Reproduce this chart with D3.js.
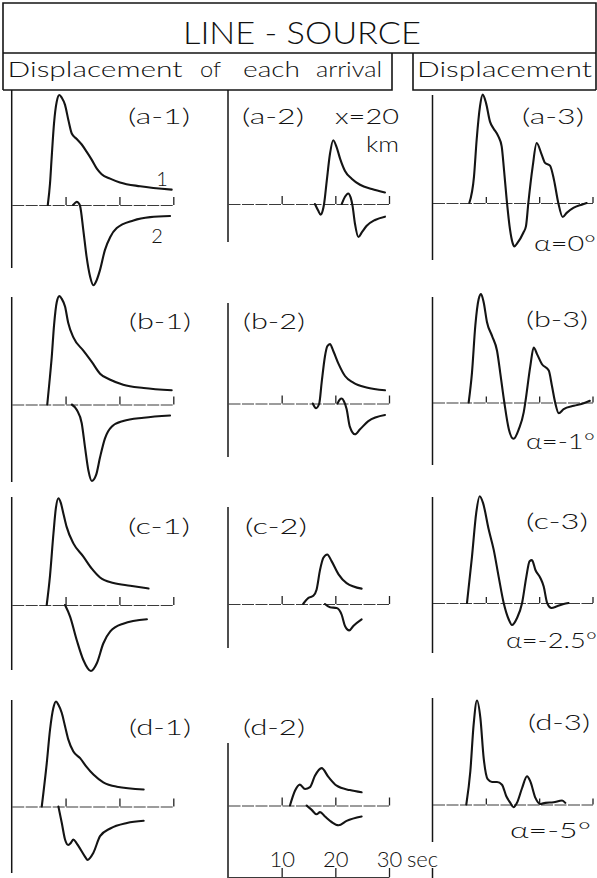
<!DOCTYPE html>
<html>
<head>
<meta charset="utf-8">
<script src="https://cdn.jsdelivr.net/npm/d3@7"></script>
<style>
  html, body { margin: 0; padding: 0; background: #fff; }
  svg { display: block; }
  text { font-family: "Lato", "Roboto", "DejaVu Sans", sans-serif; font-weight: 300; fill: #111; }
</style>
</head>
<body>
<svg id="fig" width="597" height="878"></svg>
<script>
// ---- data: time in seconds, displacement in relative units ----
const timeTicks = [10, 20, 30];
const rowIds = ['a', 'b', 'c', 'd'];
const alphaLabels = ['α=0°', 'α=-1°', 'α=-2.5°', 'α=-5°'];
const arrivalLabels = ['1', '2'];

// column 1: the two arrivals for the line source
const a1Wave1 = [[6.7,0],[7.12,0.2],[7.43,0.44],[7.86,0.745],[8.36,0.94],[8.85,1.0],[9.3,0.975],[9.9,0.91],[10.53,0.77],[11.15,0.65],[12.08,0.6],[13.0,0.55],[13.9,0.485],[14.87,0.41],[15.8,0.33],[16.7,0.28],[18.27,0.24],[20.1,0.205],[23.85,0.17],[29.7,0.14]];
const a1Wave2 = [[11.4,0],[11.8,0.02],[12.1,0.03],[12.45,0.015],[12.7,-0.01],[13.3,-0.23],[13.9,-0.47],[14.55,-0.65],[15.17,-0.73],[15.8,-0.68],[16.4,-0.59],[17.3,-0.41],[18.3,-0.29],[19.5,-0.21],[22.6,-0.14],[25.7,-0.11],[29.4,-0.10]];
const b1Wave1 = [[6.6,0],[7.0,0.2],[7.43,0.43],[7.86,0.72],[8.36,0.93],[8.85,0.985],[9.3,0.96],[9.9,0.89],[10.5,0.74],[11.45,0.61],[13.3,0.49],[14.9,0.385],[16.4,0.28],[18.3,0.225],[20.7,0.18],[24.5,0.15],[29.7,0.13]];
const b1Wave2 = [[11.15,0],[12.1,-0.05],[13.0,-0.17],[13.6,-0.385],[14.24,-0.6],[14.87,-0.695],[15.67,-0.64],[16.4,-0.48],[17.3,-0.31],[18.6,-0.2],[20.7,-0.15],[24.5,-0.12],[29.4,-0.1]];
const c1Wave1 = [[6.5,0],[7.1,0.26],[7.75,0.65],[8.2,0.88],[8.67,0.97],[9.1,0.93],[9.6,0.83],[10.2,0.71],[11.45,0.56],[13.3,0.44],[14.87,0.33],[16.4,0.25],[18.9,0.2],[22.0,0.175],[25.4,0.15]];
const c1Wave2 = [[9.9,0],[10.84,-0.105],[12.08,-0.32],[13.3,-0.5],[14.7,-0.6],[15.8,-0.53],[17.0,-0.35],[18.3,-0.24],[20.7,-0.17],[25.1,-0.13]];
const d1Wave1 = [[5.58,0],[6.5,0.39],[7.12,0.7],[7.73,0.895],[8.23,0.955],[8.67,0.925],[9.3,0.85],[9.9,0.73],[10.5,0.61],[11.45,0.5],[12.7,0.44],[13.9,0.36],[15.17,0.29],[17.0,0.22],[19.5,0.18],[24.5,0.155]];
const d1Wave2 = [[8.67,0],[9.3,-0.15],[9.9,-0.3],[10.5,-0.35],[11.0,-0.33],[11.45,-0.3],[12.0,-0.33],[12.4,-0.36],[13.6,-0.455],[14.05,-0.485],[15.17,-0.42],[16.4,-0.27],[18.3,-0.2],[21.4,-0.15],[24.5,-0.13]];

// column 2: the two later arrivals
const a2Wave1 = [[16.2,0],[16.8,-0.06],[17.27,-0.097],[17.65,-0.06],[17.9,0],[18.4,0.21],[19.0,0.455],[19.6,0.58],[20.25,0.515],[20.9,0.41],[21.8,0.3],[23.05,0.23],[24.6,0.175],[26.8,0.136],[29.25,0.105]];
const a2Wave2 = [[21.2,0],[21.8,0.066],[22.4,0.096],[22.85,0.06],[23.2,-0.015],[23.66,-0.18],[24.3,-0.3],[24.9,-0.26],[25.8,-0.2],[27.4,-0.145],[29.25,-0.115]];
const b2Wave1 = [[15.8,0],[16.4,-0.043],[17.0,0],[17.45,0.19],[18.07,0.43],[18.5,0.52],[19.0,0.54],[19.6,0.48],[20.6,0.36],[21.8,0.25],[23.35,0.19],[25.8,0.145],[29.25,0.12]];
const b2Wave2 = [[20.4,0],[20.8,0.035],[21.2,0.045],[21.6,0.02],[22.1,-0.05],[22.7,-0.21],[23.66,-0.28],[24.6,-0.235],[26.15,-0.16],[29.25,-0.105]];
const c2Wave1 = [[14.0,0],[15.0,0.055],[15.9,0.075],[16.5,0.13],[17.15,0.31],[17.77,0.42],[18.5,0.45],[19.3,0.39],[20.6,0.27],[22.1,0.19],[24.9,0.14]];
const c2Wave2 = [[18.07,0],[19.0,-0.03],[20.25,-0.036],[21.2,-0.1],[21.8,-0.2],[22.6,-0.24],[23.35,-0.2],[24.9,-0.14]];
const d2Wave1 = [[11.55,0],[12.5,0.136],[13.4,0.19],[14.35,0.15],[15.28,0.167],[16.2,0.27],[17.45,0.34],[18.7,0.26],[20.25,0.18],[22.7,0.14],[24.9,0.12]];
const d2Wave2 = [[14.65,0],[15.6,-0.04],[16.5,-0.08],[17.15,-0.06],[18.07,-0.1],[19.3,-0.15],[20.6,-0.18],[22.1,-0.14],[24.9,-0.1]];

// column 3: total displacement for each dip angle
const a3Sum = [[6.9,0],[7.78,0.24],[8.28,0.575],[8.91,0.88],[9.41,0.985],[10.03,0.91],[10.78,0.74],[11.41,0.68],[12.35,0.605],[12.97,0.515],[13.41,0.3],[13.91,0.03],[14.53,-0.24],[15.03,-0.365],[15.34,-0.395],[15.9,-0.365],[17.03,-0.27],[17.53,-0.21],[17.97,0],[18.78,0.33],[19.53,0.545],[20.47,0.44],[21.1,0.365],[22.03,0.34],[22.78,0.21],[23.59,0],[24.41,-0.127],[25.16,-0.09],[26.41,-0.045],[27.97,-0.015],[28.9,0]];
const b3Sum = [[6.78,0],[7.4,0.27],[8.03,0.7],[8.66,0.94],[9.1,0.985],[9.6,0.91],[10.22,0.73],[11.16,0.605],[12.1,0.47],[12.7,0.27],[13.47,0],[14.3,-0.24],[15.2,-0.33],[16.2,-0.24],[17.1,-0.09],[17.4,0],[18.34,0.33],[18.97,0.5],[19.6,0.44],[20.5,0.35],[21.8,0.29],[22.4,0.15],[23.0,0],[23.67,-0.097],[24.6,-0.06],[26.5,-0.03],[28.35,-0.006],[29.5,0.015]];
const c3Sum = [[6.47,0],[7.4,0.42],[8.2,0.82],[8.84,0.97],[9.47,0.91],[10.53,0.67],[11.47,0.485],[12.4,0.24],[13.35,0],[14.3,-0.15],[14.9,-0.2],[15.85,-0.136],[16.8,0],[17.6,0.24],[18.2,0.38],[18.65,0.39],[19.3,0.3],[20.2,0.23],[20.85,0.15],[21.5,0],[22.3,-0.045],[23.35,-0.03],[24.6,-0.01],[25.5,0]];
const d3Sum = [[6.34,0],[7.09,0.3],[7.72,0.73],[8.34,0.945],[8.97,0.79],[9.6,0.42],[10.35,0.23],[11.16,0.205],[12.1,0.205],[13.03,0.18],[13.84,0.075],[14.59,0.015],[15.2,-0.025],[15.84,0.015],[16.8,0.15],[17.72,0.257],[18.34,0.21],[19.3,0.06],[20.2,0.005],[21.15,0.015],[22.7,0.02],[24.3,0.036],[24.9,0.015]];

// panel table: rows a..d, columns 1..3
const waves = [
  [[a1Wave1, a1Wave2], [a2Wave1, a2Wave2], [a3Sum]],
  [[b1Wave1, b1Wave2], [b2Wave1, b2Wave2], [b3Sum]],
  [[c1Wave1, c1Wave2], [c2Wave1, c2Wave2], [c3Sum]],
  [[d1Wave1, d1Wave2], [d2Wave1, d2Wave2], [d3Sum]]
];

// ---- layout ----
const colRange = [[11.7, 173.3], [228, 389], [432.5, 592.5]];
const rowBase = [205, 404.5, 605, 806.5];
const colShift = [0, -1, -2];
const unitPx = 110;
const vAxis = [
  [[90, 268], [90, 242], [95, 260]],
  [[297, 482], [303, 457], [297, 465]],
  [[497, 670], [507, 648], [497, 653]],
  [[700, 873], [743, 878], [698, 842]]
];
const tickLen = [8, 8, 6];
const labelPos = [
  [[159, 124], [273, 124], [553, 124]],
  [[160, 329], [274, 329], [557, 327]],
  [[159, 534], [276, 534], [557, 529]],
  [[160, 735], [274, 735], [559, 730]]
];
const alphaPos = [[534, 596, 251], [526, 595, 449], [506, 597, 648], [510, 591, 838]];

const svg = d3.select('#fig');
const ink = '#141414';

// header frame
svg.append('path')
  .attr('fill', 'none').attr('stroke', ink).attr('stroke-width', 1.6)
  .attr('d', 'M3,90 V3 H596 V90 M3,53 H596 M3,90 H392 V53 M413,53 V90 H596');

svg.append('text')
  .attr('x', 302).attr('y', 44).attr('text-anchor', 'middle')
  .attr('font-size', 31).attr('textLength', 238).attr('lengthAdjust', 'spacingAndGlyphs')
  .text('LINE - SOURCE');

const headerWords = [
  ['Displacement', 7.6, 175], ['of', 200, 21], ['each', 243, 57],
  ['arrival', 316, 66], ['Displacement', 417, 175]
];
svg.selectAll('text.hw').data(headerWords).join('text')
  .attr('class', 'hw')
  .attr('x', d => d[1]).attr('y', 77)
  .attr('font-size', 21)
  .attr('textLength', d => d[2]).attr('lengthAdjust', 'spacingAndGlyphs')
  .text(d => d[0]);

// panels
const line = d3.line().curve(d3.curveMonotoneX);

rowIds.forEach((rid, r) => {
  for (let c = 0; c < 3; c++) {
    const base = rowBase[r] + colShift[c];
    const x = d3.scaleLinear().domain([0, 30]).range(colRange[c]);
    const y = d3.scaleLinear().domain([-1, 1]).range([base + unitPx, base - unitPx]);
    const g = svg.append('g');

    // vertical axis line
    g.append('line')
      .attr('x1', x(0)).attr('x2', x(0))
      .attr('y1', vAxis[r][c][0]).attr('y2', vAxis[r][c][1])
      .attr('stroke', ink).attr('stroke-width', 1.5);

    // time axis with 10-s ticks
    const ax = g.append('g')
      .attr('transform', `translate(0,${y(0)})`)
      .call(d3.axisTop(x).tickValues(timeTicks).tickSize(tickLen[c]).tickSizeOuter(0).tickFormat(''));
    ax.select('.domain').attr('stroke', '#3a3a3a').attr('stroke-width', 1.2).attr('stroke-dasharray', '12 1.5');
    ax.selectAll('.tick line').attr('stroke', '#222').attr('stroke-width', 1.3);

    // traces
    waves[r][c].forEach(w => {
      g.append('path')
        .attr('d', line(w.map(p => [x(p[0]), y(p[1])])))
        .attr('fill', 'none').attr('stroke', ink).attr('stroke-width', 2.1)
        .attr('stroke-linejoin', 'round').attr('stroke-linecap', 'round');
    });

    // panel tag
    g.append('text')
      .attr('x', labelPos[r][c][0]).attr('y', labelPos[r][c][1])
      .attr('text-anchor', 'middle').attr('font-size', 22)
      .attr('textLength', 62).attr('lengthAdjust', 'spacingAndGlyphs')
      .text(`(${rid}-${c + 1})`);
  }

  svg.append('text')
    .attr('x', alphaPos[r][0]).attr('y', alphaPos[r][2])
    .attr('font-size', 22)
    .attr('textLength', alphaPos[r][1] - alphaPos[r][0]).attr('lengthAdjust', 'spacingAndGlyphs')
    .text(alphaLabels[r]);
});

// arrival numbers in (a-1)
svg.append('text').attr('x', 162).attr('y', 186).attr('text-anchor', 'middle').attr('font-size', 20).text(arrivalLabels[0]);
svg.append('text').attr('x', 157).attr('y', 243).attr('text-anchor', 'middle').attr('font-size', 20).text(arrivalLabels[1]);

// epicentral distance
svg.append('text').attr('x', 335).attr('y', 124).attr('font-size', 22)
  .attr('textLength', 64).attr('lengthAdjust', 'spacingAndGlyphs').text('x=20');
svg.append('text').attr('x', 366).attr('y', 152).attr('font-size', 22)
  .attr('textLength', 33).attr('lengthAdjust', 'spacingAndGlyphs').text('km');

// lower stub of the (d-3) axis below the time unit
svg.append('line').attr('x1', 432.5).attr('x2', 432.5).attr('y1', 868).attr('y2', 878)
  .attr('stroke', ink).attr('stroke-width', 1.5);

// time scale bar under the middle column
const xs = d3.scaleLinear().domain([0, 30]).range(colRange[1]);
const sb = svg.append('g')
  .attr('transform', 'translate(0,877)')
  .call(d3.axisTop(xs).tickValues(timeTicks).tickSize(9).tickSizeOuter(0).tickPadding(1));
sb.select('.domain').attr('stroke', '#3a3a3a').attr('stroke-width', 1.2);
sb.selectAll('.tick line').attr('stroke', '#222').attr('stroke-width', 1.3);
sb.selectAll('.tick text').attr('font-size', 22).attr('fill', '#111')
  .attr('font-family', '"Lato", "DejaVu Sans", sans-serif').attr('font-weight', 300);
svg.append('text').attr('x', 407).attr('y', 867).attr('font-size', 22)
  .text('sec');
</script>
</body>
</html>
